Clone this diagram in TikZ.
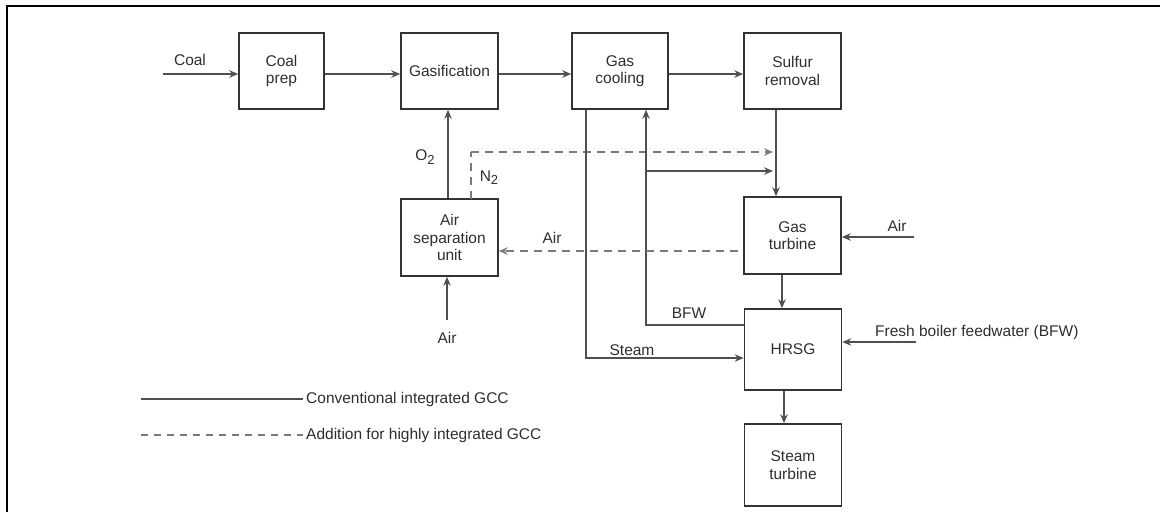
\documentclass[tikz,border=0pt]{standalone}
\usepackage{fontspec}
\setmainfont{Liberation Sans}
\usetikzlibrary{arrows.meta}
\definecolor{boxc}{HTML}{333333}
\definecolor{linec}{HTML}{505050}
\definecolor{dashc}{HTML}{7A7A7A}
\definecolor{txtc}{HTML}{2E2E2E}
\newcommand{\subtwo}{\raisebox{-0.4ex}{\fontsize{13}{13}\selectfont 2}}
\begin{document}
\begin{tikzpicture}[x=1pt,y=-1pt,
  font=\fontsize{15.5}{17.5}\selectfont, text=txtc,
  unit/.style={draw=boxc, line width=1.6pt, minimum width=97pt, minimum height=77pt, align=center, inner sep=0pt},
  flow/.style={draw=linec, line width=1.1pt, -{Stealth[length=9pt,width=7.5pt,inset=3pt]}},
  plain/.style={draw=linec, line width=1.1pt},
  dflow/.style={draw=dashc, line width=1.1pt, dash pattern=on 8pt off 6pt, -{Stealth[length=9pt,width=7.5pt,inset=3pt]}},
  dplain/.style={draw=dashc, line width=1.1pt, dash pattern=on 8pt off 6pt},
  lbl/.style={inner sep=0pt}
]
\useasboundingbox (0,0) rectangle (1160,512);
% frame
\draw[line width=2.5pt, black] (7,512) -- (7,6) -- (1160,6);

% units
\node[unit, minimum width=85pt, minimum height=76pt] (coalprep) at (281.5,71) {Coal\\prep};
\node[unit, minimum height=76pt] (gasif) at (449.5,71) {Gasification};
\node[unit, minimum width=96pt, minimum height=76pt] (gascool) at (620,71) {Gas\\cooling};
\node[unit, minimum height=76pt] (sulfur) at (792.5,71) {Sulfur\\removal};
\node[unit] (asu) at (449.5,237.5) {Air\\separation\\unit};
\node[unit] (gt) at (792.5,235.5) {Gas\\turbine};
\node[unit, minimum height=81pt] (hrsg) at (793,349.5) {HRSG};
\node[unit, minimum height=82pt] (st) at (793,465) {Steam\\turbine};

% coordinates
\coordinate (coalin) at (163,74);
\coordinate (row) at (0,74);
\coordinate (n2a) at (471,199);
\coordinate (n2b) at (471,152);
\coordinate (n2end) at (773,152);
\coordinate (bfwx) at (646,171);
\coordinate (fuelend) at (773,171);
\coordinate (sx) at (776,0);
\coordinate (stx) at (586,109);
\coordinate (stc) at (586,358);
\coordinate (bfwc) at (646,325);
\coordinate (airdash) at (738,251);
\coordinate (airasu) at (447,320);
\coordinate (airgt) at (914,237);
\coordinate (fbfw) at (916,342);

% top row
\draw[flow] (coalin) -- (coalprep.west |- coalin);
\draw[flow] (coalprep.east |- row) -- (gasif.west |- row);
\draw[flow] (gasif.east |- row) -- (gascool.west |- row);
\draw[flow] (gascool.east |- row) -- (sulfur.west |- row);

% O2 and N2
\draw[flow] (asu.north -| 448,0) -- (gasif.south -| 448,0);
\draw[dplain] (n2a) -- (n2b);
\draw[dflow] (n2b) -- (n2end);

% sulfur down to gas turbine
\draw[flow] (sulfur.south -| sx) -- (gt.north -| sx);
% fuel gas branch
\draw[flow] (bfwx) -- (fuelend);

% BFW return
\draw[flow] (hrsg.west |- bfwc) -- (bfwc) -- (gascool.south -| bfwc);
% steam
\draw[flow] (gascool.south -| stx) -- (stc) -- (hrsg.west |- stc);

% dashed air
\draw[dflow] (airdash) -- (asu.east |- airdash);
% air to ASU
\draw[flow] (airasu) -- (asu.south -| airasu);
% GT
\draw[flow] (airgt) -- (gt.east |- airgt);
\draw[flow] (gt.south -| 782,0) -- (hrsg.north -| 782,0);
\draw[flow] (fbfw) -- (hrsg.east |- fbfw);
\draw[flow] (hrsg.south -| 784,0) -- (st.north -| 784,0);

% labels
\node[lbl] (lcoal) at (190,60) {Coal};
\node[lbl] (lo2) at (425,157) {O\subtwo};
\node[lbl] (ln2) at (489,178) {N\subtwo};
\node[lbl] (lair1) at (552,238) {Air};
\node[lbl] (lair2) at (447,338) {Air};
\node[lbl] (lair3) at (897,226) {Air};
\node[lbl] (lbfw) at (689,313) {BFW};
\node[lbl] (lsteam) at (632,350) {Steam};
\node[lbl, anchor=west] (lfresh) at (875,332) {Fresh boiler feedwater (BFW)};

% legend
\coordinate (lg1a) at (141,399);
\coordinate (lg2a) at (141,435);
\node[lbl, anchor=west] (lgt1) at (306,399) {Conventional integrated GCC};
\node[lbl, anchor=west] (lgt2) at (306,435) {Addition for highly integrated GCC};
\draw[plain] (lg1a) -- ([xshift=-3pt]lgt1.west);
\draw[dplain, dash pattern=on 7pt off 6pt] (lg2a) -- ([xshift=-3pt]lgt2.west);
\end{tikzpicture}
\end{document}
